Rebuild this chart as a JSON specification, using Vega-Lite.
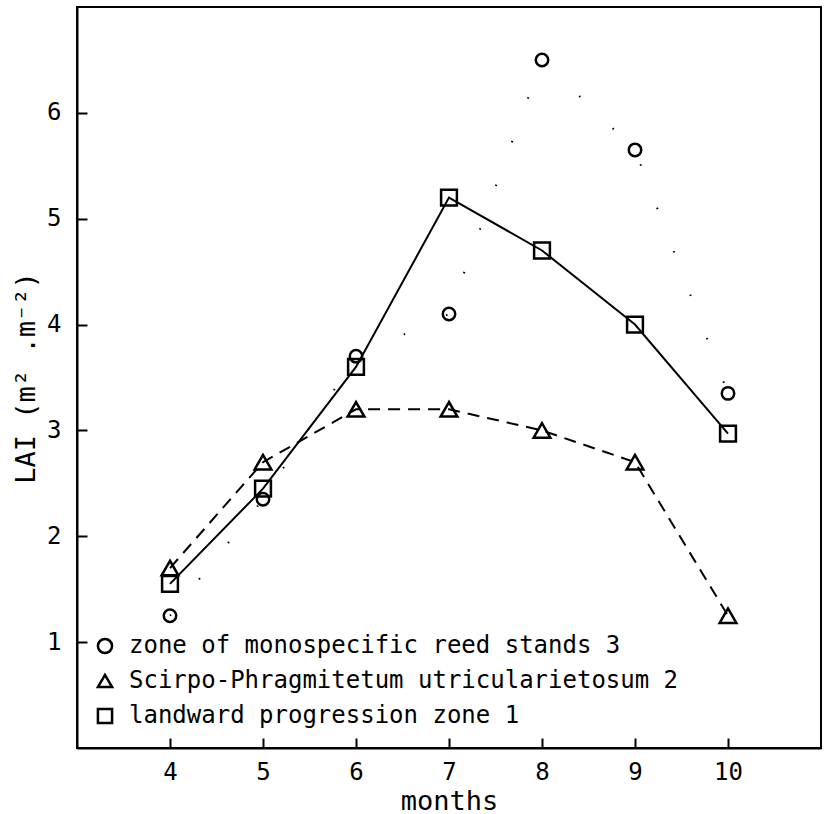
{
  "$schema": "https://vega.github.io/schema/vega-lite/v6.json",
  "autosize": {"type": "none"},
  "padding": {"left": 77, "top": 7, "right": 4, "bottom": 66},
  "width": 744,
  "height": 741,
  "background": "white",
  "config": {
    "view": {"stroke": "black", "strokeWidth": 2},
    "font": "DejaVu Sans Mono",
    "axis": {
      "domainColor": "black",
      "domainWidth": 2,
      "tickColor": "black",
      "tickWidth": 2,
      "tickSize": -10,
      "grid": false,
      "labelFont": "DejaVu Sans Mono",
      "labelFontSize": 24,
      "labelColor": "black",
      "titleFont": "DejaVu Sans Mono",
      "titleFontSize": 27,
      "titleFontWeight": "normal",
      "titleColor": "black"
    },
    "legend": {
      "labelFont": "DejaVu Sans Mono",
      "labelFontSize": 24,
      "labelColor": "black"
    }
  },
  "data": {
    "values": [
      {"month": 4, "lai": 1.25, "series": "zone of monospecific reed stands 3"},
      {"month": 5, "lai": 2.35, "series": "zone of monospecific reed stands 3"},
      {"month": 6, "lai": 3.7, "series": "zone of monospecific reed stands 3"},
      {"month": 7, "lai": 4.1, "series": "zone of monospecific reed stands 3"},
      {"month": 8, "lai": 6.5, "series": "zone of monospecific reed stands 3"},
      {"month": 9, "lai": 5.65, "series": "zone of monospecific reed stands 3"},
      {"month": 10, "lai": 3.35, "series": "zone of monospecific reed stands 3"},
      {"month": 4, "lai": 1.7, "series": "Scirpo-Phragmitetum utricularietosum 2"},
      {"month": 5, "lai": 2.7, "series": "Scirpo-Phragmitetum utricularietosum 2"},
      {"month": 6, "lai": 3.2, "series": "Scirpo-Phragmitetum utricularietosum 2"},
      {"month": 7, "lai": 3.2, "series": "Scirpo-Phragmitetum utricularietosum 2"},
      {"month": 8, "lai": 3.0, "series": "Scirpo-Phragmitetum utricularietosum 2"},
      {"month": 9, "lai": 2.7, "series": "Scirpo-Phragmitetum utricularietosum 2"},
      {"month": 10, "lai": 1.25, "series": "Scirpo-Phragmitetum utricularietosum 2"},
      {"month": 4, "lai": 1.55, "series": "landward progression zone 1"},
      {"month": 5, "lai": 2.45, "series": "landward progression zone 1"},
      {"month": 6, "lai": 3.6, "series": "landward progression zone 1"},
      {"month": 7, "lai": 5.2, "series": "landward progression zone 1"},
      {"month": 8, "lai": 4.7, "series": "landward progression zone 1"},
      {"month": 9, "lai": 4.0, "series": "landward progression zone 1"},
      {"month": 10, "lai": 2.97, "series": "landward progression zone 1"}
    ]
  },
  "encoding": {
    "x": {
      "field": "month", "type": "quantitative",
      "scale": {"domain": [3, 11], "nice": false, "zero": false},
      "axis": {"values": [4, 5, 6, 7, 8, 9, 10], "title": "months", "labelPadding": 22, "titlePadding": 4}
    },
    "y": {
      "field": "lai", "type": "quantitative",
      "scale": {"domain": [0, 7], "nice": false},
      "axis": {"values": [1, 2, 3, 4, 5, 6], "title": "LAI  (m² .m⁻²)", "labelPadding": 26, "titlePadding": 6}
    },
    "shape": {
      "field": "series", "type": "nominal",
      "scale": {
        "domain": ["zone of monospecific reed stands 3", "Scirpo-Phragmitetum utricularietosum 2", "landward progression zone 1"],
        "range": ["circle", "triangle-up", "square"]
      },
      "legend": {
        "title": null,
        "orient": "none",
        "legendX": 16,
        "legendY": 627,
        "padding": 0,
        "labelOffset": 12,
        "labelLimit": 800,
        "rowPadding": 10,
        "symbolSize": 200,
        "symbolStrokeWidth": 2.5,
        "symbolStrokeColor": "black",
        "symbolFillColor": "transparent"
      }
    }
  },
  "layer": [
    {
      "transform": [{"filter": "datum.series === 'zone of monospecific reed stands 3'"}],
      "mark": {"type": "line", "color": "black", "strokeWidth": 2, "strokeDash": [1.5, 45]},
      "encoding": {"shape": null}
    },
    {
      "transform": [{"filter": "datum.series === 'Scirpo-Phragmitetum utricularietosum 2'"}],
      "mark": {"type": "line", "color": "black", "strokeWidth": 2, "strokeDash": [12, 8]},
      "encoding": {"shape": null}
    },
    {
      "transform": [{"filter": "datum.series === 'landward progression zone 1'"}],
      "mark": {"type": "line", "color": "black", "strokeWidth": 2},
      "encoding": {"shape": null}
    },
    {
      "transform": [{"filter": "datum.series === 'zone of monospecific reed stands 3'"}],
      "mark": {"type": "point", "filled": false, "color": "black", "strokeWidth": 2.5, "opacity": 1, "size": 155}
    },
    {
      "transform": [{"filter": "datum.series === 'Scirpo-Phragmitetum utricularietosum 2'"}],
      "mark": {"type": "point", "filled": false, "color": "black", "strokeWidth": 2.5, "opacity": 1, "size": 280}
    },
    {
      "transform": [{"filter": "datum.series === 'landward progression zone 1'"}],
      "mark": {"type": "point", "filled": false, "color": "black", "strokeWidth": 2.5, "opacity": 1, "size": 250}
    }
  ]
}
